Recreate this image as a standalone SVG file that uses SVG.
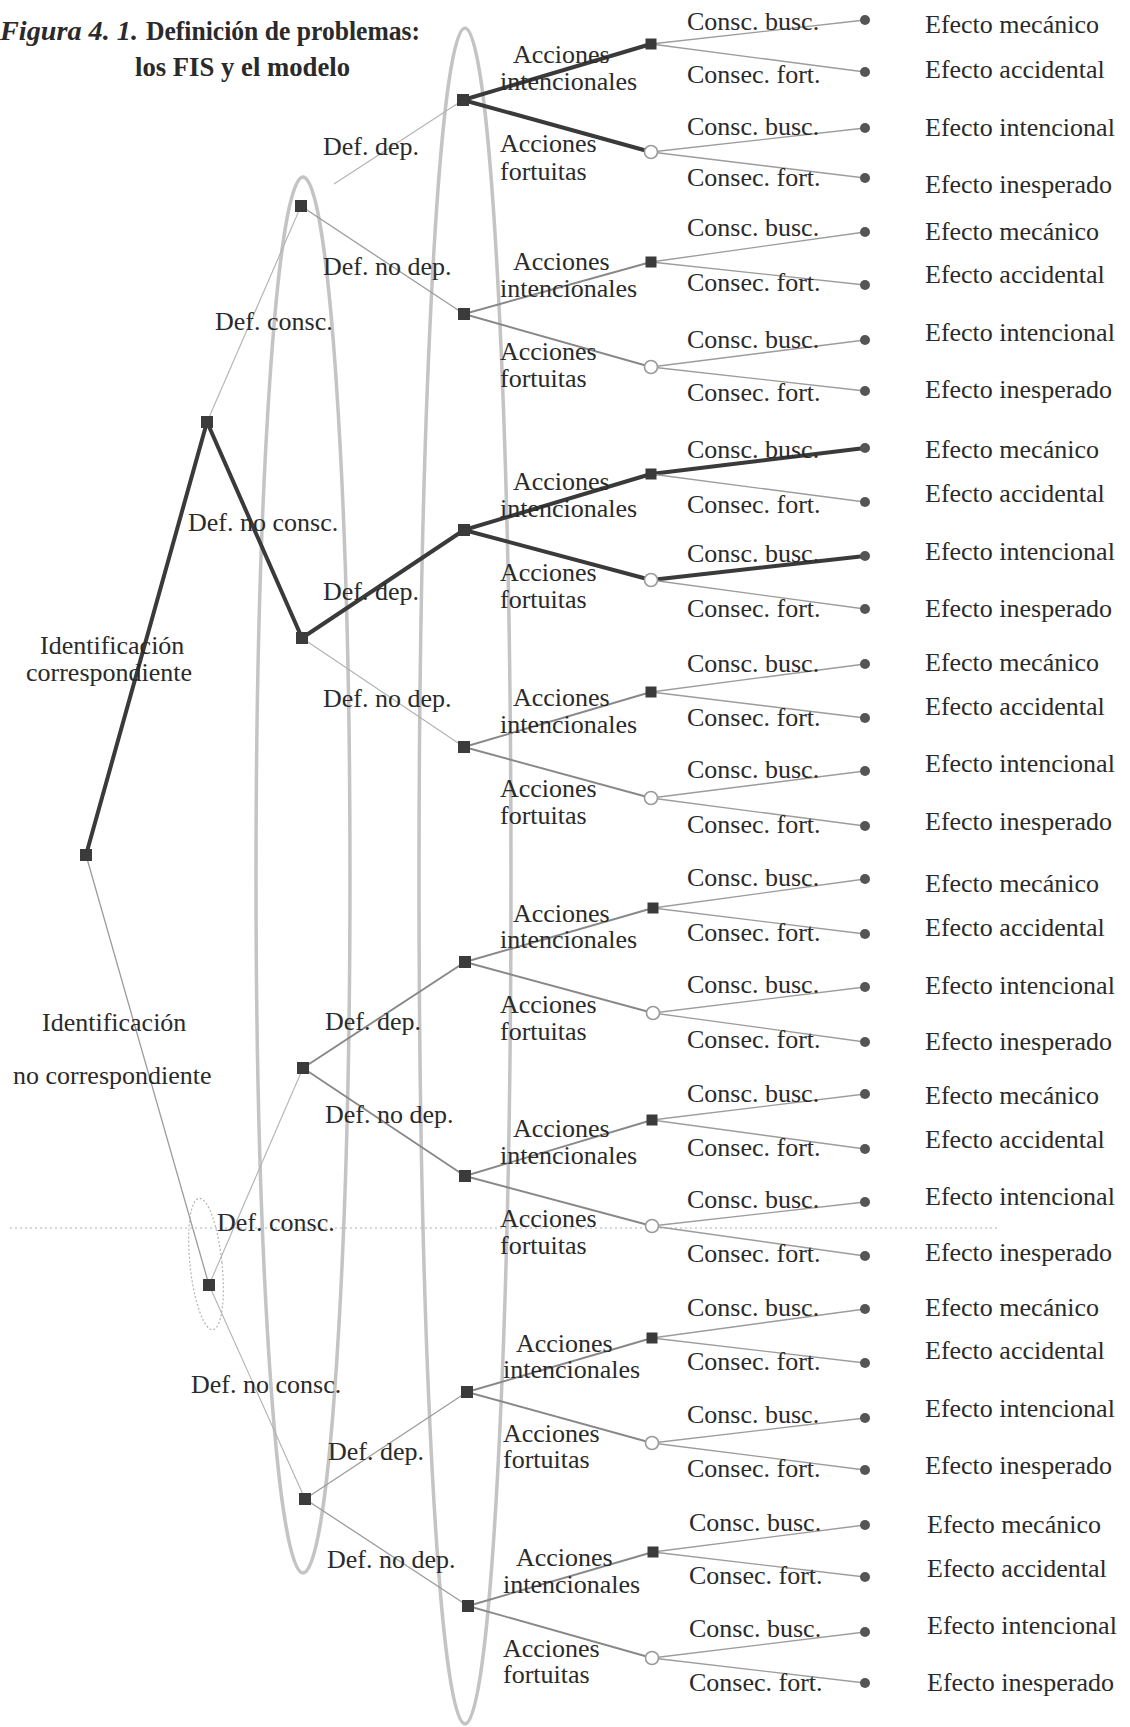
<svg xmlns="http://www.w3.org/2000/svg" width="1130" height="1727" viewBox="0 0 1130 1727">
  <style>
    text { font-family: "Liberation Serif", "Times New Roman", serif; font-size: 26px; fill: #2a2a2a; }
    .title { font-size: 27px; font-weight: bold; fill: #2a2a2a; }
    .loop { fill: none; stroke: #c4c4c4; stroke-width: 3.5; }
    .loop-thin { fill: none; stroke: #b4b4b4; stroke-width: 1.2; stroke-dasharray: 2 2; }
    .fold { stroke: #b0b0b0; stroke-width: 1; stroke-dasharray: 2 3; }
    .thick { stroke: #3a3a3a; stroke-width: 4; stroke-linecap: round; fill: none; }
    .med { stroke: #888; stroke-width: 1.9; fill: none; }
    .thin { stroke: #9c9c9c; stroke-width: 1.3; fill: none; }
    .faint { stroke: #b2b2b2; stroke-width: 1.1; fill: none; }
    .sq { fill: #3b3b3b; }
    .hollow { fill: #fff; stroke: #9a9a9a; stroke-width: 1.6; }
    .dot { fill: #555; }
  </style>

  <!-- title -->
  <g id="title">
    <text class="title" x="0" y="40" font-style="italic" textLength="138" lengthAdjust="spacingAndGlyphs">Figura 4. 1.</text>
    <text class="title" x="146" y="40" textLength="274" lengthAdjust="spacingAndGlyphs">Definición de problemas:</text>
    <text class="title" x="135" y="76" textLength="215" lengthAdjust="spacingAndGlyphs">los FIS y el modelo</text>
  </g>

  <!-- hand-drawn grouping loops around the levels -->
  <g id="loops">
    <ellipse class="loop" cx="465" cy="876" rx="46" ry="848"/>
    <ellipse class="loop" cx="303" cy="875" rx="47" ry="698"/>
    <ellipse class="loop-thin" cx="206" cy="1264" rx="16" ry="66" transform="rotate(-6 206 1264)"/>
    <line class="fold" x1="10" y1="1228" x2="1000" y2="1228"/>
  </g>

  <!-- connectors -->
  <g id="connectors">
    <!-- root and first level -->
    <line class="thick" x1="86" y1="855" x2="207" y2="422"/>
    <line class="thin" x1="86" y1="855" x2="209" y2="1285"/>
    <line class="faint" x1="207" y1="422" x2="301" y2="206"/>
    <line class="thick" x1="207" y1="422" x2="302" y2="638"/>
    <line class="faint" x1="209" y1="1285" x2="303" y2="1068"/>
    <line class="faint" x1="209" y1="1285" x2="305" y2="1499"/>
    <!-- second level -->
    <line class="faint" x1="334" y1="184" x2="463" y2="100"/>
    <line class="thin" x1="301" y1="206" x2="464" y2="314"/>
    <line class="thick" x1="302" y1="638" x2="464" y2="530"/>
    <line class="faint" x1="302" y1="638" x2="464" y2="747"/>
    <line class="med" x1="303" y1="1068" x2="465" y2="962"/>
    <line class="med" x1="303" y1="1068" x2="465" y2="1176" stroke="#777" stroke-width="2.2"/>
    <line class="thin" x1="305" y1="1499" x2="467" y2="1392"/>
    <line class="thin" x1="305" y1="1499" x2="468" y2="1606"/>
    <!-- third level -->
    <line class="thick" x1="463" y1="100" x2="651" y2="44"/>
    <line class="thick" x1="463" y1="100" x2="651" y2="152"/>
    <line class="med" x1="464" y1="314" x2="651" y2="262"/>
    <line class="med" x1="464" y1="314" x2="651" y2="367"/>
    <line class="thick" x1="464" y1="530" x2="651" y2="474"/>
    <line class="thick" x1="464" y1="530" x2="651" y2="580"/>
    <line class="med" x1="464" y1="747" x2="651" y2="692"/>
    <line class="med" x1="464" y1="747" x2="651" y2="798"/>
    <line class="med" x1="465" y1="962" x2="653" y2="908"/>
    <line class="med" x1="465" y1="962" x2="653" y2="1013"/>
    <line class="med" x1="465" y1="1176" x2="652" y2="1120"/>
    <line class="med" x1="465" y1="1176" x2="652" y2="1226"/>
    <line class="med" x1="467" y1="1392" x2="652" y2="1338"/>
    <line class="med" x1="467" y1="1392" x2="652" y2="1443"/>
    <line class="med" x1="468" y1="1606" x2="653" y2="1552"/>
    <line class="med" x1="468" y1="1606" x2="652" y2="1658"/>
    <!-- fourth level to outcomes -->
    <line class="thin" x1="651" y1="44" x2="865" y2="20"/>
    <line class="thin" x1="651" y1="44" x2="865" y2="72"/>
    <line class="thin" x1="651" y1="152" x2="865" y2="128"/>
    <line class="thin" x1="651" y1="152" x2="865" y2="178"/>
    <line class="thin" x1="651" y1="262" x2="865" y2="232"/>
    <line class="thin" x1="651" y1="262" x2="865" y2="285"/>
    <line class="thin" x1="651" y1="367" x2="865" y2="340"/>
    <line class="thin" x1="651" y1="367" x2="865" y2="391"/>
    <line class="thick" x1="651" y1="474" x2="865" y2="448"/>
    <line class="thin" x1="651" y1="474" x2="865" y2="502"/>
    <line class="thick" x1="651" y1="580" x2="865" y2="556"/>
    <line class="thin" x1="651" y1="580" x2="865" y2="609"/>
    <line class="thin" x1="651" y1="692" x2="865" y2="664"/>
    <line class="thin" x1="651" y1="692" x2="865" y2="718"/>
    <line class="thin" x1="651" y1="798" x2="865" y2="771"/>
    <line class="thin" x1="651" y1="798" x2="865" y2="826"/>
    <line class="thin" x1="653" y1="908" x2="865" y2="879"/>
    <line class="thin" x1="653" y1="908" x2="865" y2="934"/>
    <line class="thin" x1="653" y1="1013" x2="865" y2="987"/>
    <line class="thin" x1="653" y1="1013" x2="865" y2="1042"/>
    <line class="thin" x1="652" y1="1120" x2="865" y2="1094"/>
    <line class="thin" x1="652" y1="1120" x2="865" y2="1149"/>
    <line class="thin" x1="652" y1="1226" x2="865" y2="1202"/>
    <line class="thin" x1="652" y1="1226" x2="865" y2="1256"/>
    <line class="thin" x1="652" y1="1338" x2="865" y2="1309"/>
    <line class="thin" x1="652" y1="1338" x2="865" y2="1363"/>
    <line class="thin" x1="652" y1="1443" x2="865" y2="1418"/>
    <line class="thin" x1="652" y1="1443" x2="865" y2="1470"/>
    <line class="thin" x1="653" y1="1552" x2="865" y2="1525"/>
    <line class="thin" x1="653" y1="1552" x2="865" y2="1577"/>
    <line class="thin" x1="652" y1="1658" x2="865" y2="1632"/>
    <line class="thin" x1="652" y1="1658" x2="865" y2="1683"/>
  </g>

  <!-- branch labels -->
  <g id="branch-labels">
    <text x="40" y="654">Identificación</text>
    <text x="26" y="681">correspondiente</text>
    <text x="42" y="1031">Identificación</text>
    <text x="13" y="1084">no correspondiente</text>

    <text x="215" y="330">Def. consc.</text>
    <text x="188" y="531">Def. no consc.</text>
    <text x="217" y="1231">Def. consc.</text>
    <text x="191" y="1393">Def. no consc.</text>

    <text x="323" y="155">Def. dep.</text>
    <text x="323" y="275">Def. no dep.</text>
    <text x="323" y="600">Def. dep.</text>
    <text x="323" y="707">Def. no dep.</text>
    <text x="325" y="1030">Def. dep.</text>
    <text x="325" y="1123">Def. no dep.</text>
    <text x="328" y="1460">Def. dep.</text>
    <text x="327" y="1568">Def. no dep.</text>

    <text x="513" y="63">Acciones</text><text x="500" y="90">intencionales</text>
    <text x="500" y="152">Acciones</text><text x="500" y="180">fortuitas</text>
    <text x="513" y="270">Acciones</text><text x="500" y="297">intencionales</text>
    <text x="500" y="360">Acciones</text><text x="500" y="387">fortuitas</text>
    <text x="513" y="490">Acciones</text><text x="500" y="517">intencionales</text>
    <text x="500" y="581">Acciones</text><text x="500" y="608">fortuitas</text>
    <text x="513" y="706">Acciones</text><text x="500" y="733">intencionales</text>
    <text x="500" y="797">Acciones</text><text x="500" y="824">fortuitas</text>
    <text x="513" y="922">Acciones</text><text x="500" y="948">intencionales</text>
    <text x="500" y="1013">Acciones</text><text x="500" y="1040">fortuitas</text>
    <text x="513" y="1137">Acciones</text><text x="500" y="1164">intencionales</text>
    <text x="500" y="1227">Acciones</text><text x="500" y="1254">fortuitas</text>
    <text x="516" y="1352">Acciones</text><text x="503" y="1378">intencionales</text>
    <text x="503" y="1442">Acciones</text><text x="503" y="1468">fortuitas</text>
    <text x="516" y="1566">Acciones</text><text x="503" y="1593">intencionales</text>
    <text x="503" y="1657">Acciones</text><text x="503" y="1683">fortuitas</text>

    <text x="687" y="30">Consc. busc.</text><text x="687" y="83">Consec. fort.</text>
    <text x="687" y="135">Consc. busc.</text><text x="687" y="186">Consec. fort.</text>
    <text x="687" y="236">Consc. busc.</text><text x="687" y="291">Consec. fort.</text>
    <text x="687" y="348">Consc. busc.</text><text x="687" y="401">Consec. fort.</text>
    <text x="687" y="458">Consc. busc.</text><text x="687" y="513">Consec. fort.</text>
    <text x="687" y="562">Consc. busc.</text><text x="687" y="617">Consec. fort.</text>
    <text x="687" y="672">Consc. busc.</text><text x="687" y="726">Consec. fort.</text>
    <text x="687" y="778">Consc. busc.</text><text x="687" y="833">Consec. fort.</text>
    <text x="687" y="886">Consc. busc.</text><text x="687" y="941">Consec. fort.</text>
    <text x="687" y="993">Consc. busc.</text><text x="687" y="1048">Consec. fort.</text>
    <text x="687" y="1102">Consc. busc.</text><text x="687" y="1156">Consec. fort.</text>
    <text x="687" y="1208">Consc. busc.</text><text x="687" y="1262">Consec. fort.</text>
    <text x="687" y="1316">Consc. busc.</text><text x="687" y="1370">Consec. fort.</text>
    <text x="687" y="1423">Consc. busc.</text><text x="687" y="1477">Consec. fort.</text>
    <text x="689" y="1531">Consc. busc.</text><text x="689" y="1584">Consec. fort.</text>
    <text x="689" y="1637">Consc. busc.</text><text x="689" y="1691">Consec. fort.</text>
  </g>

  <!-- decision nodes -->
  <g id="n-root"><rect class="sq" x="80" y="849" width="12" height="12"/></g>
  <g id="n-consc"><rect class="sq" x="201" y="416" width="12" height="12"/></g>
  <g id="n-noconsc"><rect class="sq" x="203" y="1279" width="12" height="12"/></g>
  <g id="n-dep-1"><rect class="sq" x="295" y="200" width="12" height="12"/></g>
  <g id="n-dep-2"><rect class="sq" x="296" y="632" width="12" height="12"/></g>
  <g id="n-dep-3"><rect class="sq" x="297" y="1062" width="12" height="12"/></g>
  <g id="n-dep-4"><rect class="sq" x="299" y="1493" width="12" height="12"/></g>
  <g id="n-acc-1"><rect class="sq" x="457" y="94" width="12" height="12"/></g>
  <g id="n-acc-2"><rect class="sq" x="458" y="308" width="12" height="12"/></g>
  <g id="n-acc-3"><rect class="sq" x="458" y="524" width="12" height="12"/></g>
  <g id="n-acc-4"><rect class="sq" x="458" y="741" width="12" height="12"/></g>
  <g id="n-acc-5"><rect class="sq" x="459" y="956" width="12" height="12"/></g>
  <g id="n-acc-6"><rect class="sq" x="459" y="1170" width="12" height="12"/></g>
  <g id="n-acc-7"><rect class="sq" x="461" y="1386" width="12" height="12"/></g>
  <g id="n-acc-8"><rect class="sq" x="462" y="1600" width="12" height="12"/></g>

  <!-- intentional (square) and fortuitous (open circle) action nodes -->
  <g id="n-int-1"><rect class="sq" x="645.5" y="38.5" width="11" height="11"/></g>
  <g id="n-fort-1"><circle class="hollow" cx="651" cy="152" r="6.5"/></g>
  <g id="n-int-2"><rect class="sq" x="645.5" y="256.5" width="11" height="11"/></g>
  <g id="n-fort-2"><circle class="hollow" cx="651" cy="367" r="6.5"/></g>
  <g id="n-int-3"><rect class="sq" x="645.5" y="468.5" width="11" height="11"/></g>
  <g id="n-fort-3"><circle class="hollow" cx="651" cy="580" r="6.5"/></g>
  <g id="n-int-4"><rect class="sq" x="645.5" y="686.5" width="11" height="11"/></g>
  <g id="n-fort-4"><circle class="hollow" cx="651" cy="798" r="6.5"/></g>
  <g id="n-int-5"><rect class="sq" x="647.5" y="902.5" width="11" height="11"/></g>
  <g id="n-fort-5"><circle class="hollow" cx="653" cy="1013" r="6.5"/></g>
  <g id="n-int-6"><rect class="sq" x="646.5" y="1114.5" width="11" height="11"/></g>
  <g id="n-fort-6"><circle class="hollow" cx="652" cy="1226" r="6.5"/></g>
  <g id="n-int-7"><rect class="sq" x="646.5" y="1332.5" width="11" height="11"/></g>
  <g id="n-fort-7"><circle class="hollow" cx="652" cy="1443" r="6.5"/></g>
  <g id="n-int-8"><rect class="sq" x="647.5" y="1546.5" width="11" height="11"/></g>
  <g id="n-fort-8"><circle class="hollow" cx="652" cy="1658" r="6.5"/></g>

  <!-- outcomes -->
  <g id="out-1-1"><circle class="dot" cx="865" cy="20" r="5"/><text x="925" y="33">Efecto mecánico</text></g>
  <g id="out-1-2"><circle class="dot" cx="865" cy="72" r="5"/><text x="925" y="78">Efecto accidental</text></g>
  <g id="out-1-3"><circle class="dot" cx="865" cy="128" r="5"/><text x="925" y="136">Efecto intencional</text></g>
  <g id="out-1-4"><circle class="dot" cx="865" cy="178" r="5"/><text x="925" y="193">Efecto inesperado</text></g>
  <g id="out-2-1"><circle class="dot" cx="865" cy="232" r="5"/><text x="925" y="240">Efecto mecánico</text></g>
  <g id="out-2-2"><circle class="dot" cx="865" cy="285" r="5"/><text x="925" y="283">Efecto accidental</text></g>
  <g id="out-2-3"><circle class="dot" cx="865" cy="340" r="5"/><text x="925" y="341">Efecto intencional</text></g>
  <g id="out-2-4"><circle class="dot" cx="865" cy="391" r="5"/><text x="925" y="398">Efecto inesperado</text></g>
  <g id="out-3-1"><circle class="dot" cx="865" cy="448" r="5"/><text x="925" y="458">Efecto mecánico</text></g>
  <g id="out-3-2"><circle class="dot" cx="865" cy="502" r="5"/><text x="925" y="502">Efecto accidental</text></g>
  <g id="out-3-3"><circle class="dot" cx="865" cy="556" r="5"/><text x="925" y="560">Efecto intencional</text></g>
  <g id="out-3-4"><circle class="dot" cx="865" cy="609" r="5"/><text x="925" y="617">Efecto inesperado</text></g>
  <g id="out-4-1"><circle class="dot" cx="865" cy="664" r="5"/><text x="925" y="671">Efecto mecánico</text></g>
  <g id="out-4-2"><circle class="dot" cx="865" cy="718" r="5"/><text x="925" y="715">Efecto accidental</text></g>
  <g id="out-4-3"><circle class="dot" cx="865" cy="771" r="5"/><text x="925" y="772">Efecto intencional</text></g>
  <g id="out-4-4"><circle class="dot" cx="865" cy="826" r="5"/><text x="925" y="830">Efecto inesperado</text></g>
  <g id="out-5-1"><circle class="dot" cx="865" cy="879" r="5"/><text x="925" y="892">Efecto mecánico</text></g>
  <g id="out-5-2"><circle class="dot" cx="865" cy="934" r="5"/><text x="925" y="936">Efecto accidental</text></g>
  <g id="out-5-3"><circle class="dot" cx="865" cy="987" r="5"/><text x="925" y="994">Efecto intencional</text></g>
  <g id="out-5-4"><circle class="dot" cx="865" cy="1042" r="5"/><text x="925" y="1050">Efecto inesperado</text></g>
  <g id="out-6-1"><circle class="dot" cx="865" cy="1094" r="5"/><text x="925" y="1104">Efecto mecánico</text></g>
  <g id="out-6-2"><circle class="dot" cx="865" cy="1149" r="5"/><text x="925" y="1148">Efecto accidental</text></g>
  <g id="out-6-3"><circle class="dot" cx="865" cy="1202" r="5"/><text x="925" y="1205">Efecto intencional</text></g>
  <g id="out-6-4"><circle class="dot" cx="865" cy="1256" r="5"/><text x="925" y="1261">Efecto inesperado</text></g>
  <g id="out-7-1"><circle class="dot" cx="865" cy="1309" r="5"/><text x="925" y="1316">Efecto mecánico</text></g>
  <g id="out-7-2"><circle class="dot" cx="865" cy="1363" r="5"/><text x="925" y="1359">Efecto accidental</text></g>
  <g id="out-7-3"><circle class="dot" cx="865" cy="1418" r="5"/><text x="925" y="1417">Efecto intencional</text></g>
  <g id="out-7-4"><circle class="dot" cx="865" cy="1470" r="5"/><text x="925" y="1474">Efecto inesperado</text></g>
  <g id="out-8-1"><circle class="dot" cx="865" cy="1525" r="5"/><text x="927" y="1533">Efecto mecánico</text></g>
  <g id="out-8-2"><circle class="dot" cx="865" cy="1577" r="5"/><text x="927" y="1577">Efecto accidental</text></g>
  <g id="out-8-3"><circle class="dot" cx="865" cy="1632" r="5"/><text x="927" y="1634">Efecto intencional</text></g>
  <g id="out-8-4"><circle class="dot" cx="865" cy="1683" r="5"/><text x="927" y="1691">Efecto inesperado</text></g>
</svg>
